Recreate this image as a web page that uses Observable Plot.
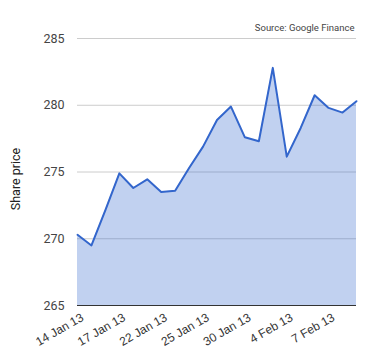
<!DOCTYPE html>
<html><head><meta charset="utf-8">
<script src="https://cdn.jsdelivr.net/npm/d3@7"></script>
<script src="https://cdn.jsdelivr.net/npm/@observablehq/plot@0.6"></script>
<style>
body{margin:0;background:#fff;}
#chart{position:relative;width:380px;height:360px;}
</style>
</head><body><div id="chart"></div>
<script>
const dates = ["14 Jan 13","15 Jan 13","16 Jan 13","17 Jan 13","18 Jan 13","21 Jan 13","22 Jan 13","23 Jan 13","24 Jan 13","25 Jan 13","28 Jan 13","29 Jan 13","30 Jan 13","31 Jan 13","1 Feb 13","4 Feb 13","5 Feb 13","6 Feb 13","7 Feb 13","8 Feb 13","11 Feb 13"];
const prices = [270.3,269.5,272.15,274.9,273.8,274.45,273.5,273.6,275.3,276.9,278.9,279.9,277.6,277.3,282.8,276.15,278.3,280.75,279.8,279.45,280.3];
const xTicks = ["14 Jan 13","17 Jan 13","22 Jan 13","25 Jan 13","30 Jan 13","4 Feb 13","7 Feb 13"];
const yTicks = [265,270,275,280,285];
const yLabel = "Share price";
const source = "Source: Google Finance";

const data = dates.map((d,i)=>({date:d, price:prices[i]}));

const chart = Plot.plot({
  width:380, height:360,
  marginLeft:77, marginRight:24, marginTop:38, marginBottom:55,
  style:{fontFamily:"Roboto, Arial, sans-serif", background:"#fff"},
  x:{type:"point", domain:dates, padding:0, round:false, label:null},
  y:{domain:[265,285], label:null},
  marks:[
    Plot.ruleY(yTicks.slice(1), {stroke:"#cccccc", strokeWidth:1}),
    Plot.areaY(data, {x:"date", y:"price", y1:265, fill:"#3366cc", fillOpacity:0.3}),
    Plot.ruleY([265], {stroke:"#333333", strokeWidth:1}),
    Plot.lineY(data, {x:"date", y:"price", stroke:"#3366cc", strokeWidth:2, strokeLinejoin:"round"}),
    Plot.axisY({ticks:yTicks, tickSize:0, tickPadding:13, fontSize:12.5, fill:"#444", label:null}),
    Plot.axisX({ticks:xTicks, tickSize:0, tickRotate:-30, tickPadding:4, fontSize:12, fontFamily:"Arial, 'Liberation Sans', sans-serif", fill:"#333", label:null, textAnchor:"end", dx:5, dy:7}),
    Plot.text([yLabel], {frameAnchor:"left", textAnchor:"middle", dx:-62, dy:7, rotate:-90, fontSize:12.5, fill:"#222"}),
    Plot.text([source], {frameAnchor:"top-right", dy:-14, dx:-2, fontSize:9.5, fill:"#444", textAnchor:"end", style:"letter-spacing:0.3px"})
  ]
});
document.getElementById("chart").appendChild(chart);
</script>
</body></html>
